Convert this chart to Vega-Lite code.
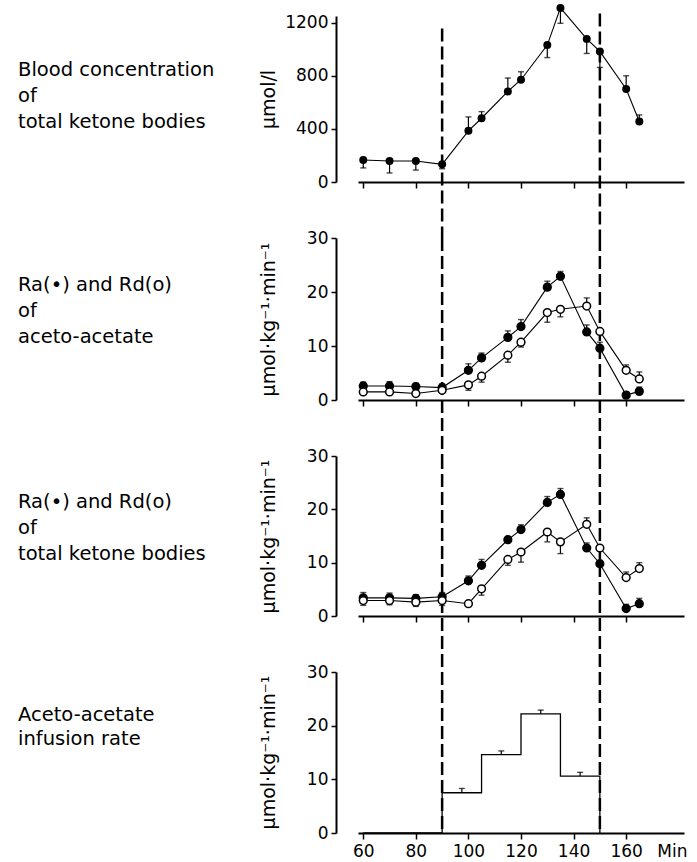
{
  "$schema": "https://vega.github.io/schema/vega-lite/v6.json",
  "padding": {"left": 18, "top": 3, "right": 5, "bottom": 3},
  "background": "white",
  "config": {
    "view": {"stroke": null},
    "font": "DejaVu Sans",
    "axis": {
      "grid": false,
      "domainColor": "black",
      "domainWidth": 2,
      "tickColor": "black",
      "tickWidth": 1.5,
      "tickSize": 6,
      "labelColor": "black",
      "labelFont": "DejaVu Sans",
      "labelFontSize": 17,
      "titleFont": "DejaVu Sans",
      "titleFontSize": 19,
      "titleFontWeight": "normal",
      "titleColor": "black"
    },
    "title": {"font": "DejaVu Sans", "fontSize": 19.5, "fontWeight": "normal", "color": "black"}
  },
  "datasets": {
    "marks": [{"t": 90}, {"t": 150}],
    "blood": [
      {"t": 60, "v": 166, "e": 106},
      {"t": 70, "v": 158, "e": 68},
      {"t": 80, "v": 158, "e": 90},
      {"t": 90, "v": 133, "e": 100},
      {"t": 100, "v": 385, "e": 490},
      {"t": 105, "v": 480, "e": 530},
      {"t": 115, "v": 682, "e": 783},
      {"t": 120, "v": 770, "e": 830},
      {"t": 130, "v": 1031, "e": 937},
      {"t": 135, "v": 1311, "e": 1195},
      {"t": 145, "v": 1077, "e": 968},
      {"t": 150, "v": 983, "e": 863},
      {"t": 160, "v": 700, "e": 800},
      {"t": 165, "v": 455, "e": 505}
    ],
    "aa": [
      {"t": 60, "s": "Ra", "v": 2.6, "e": 3.3},
      {"t": 70, "s": "Ra", "v": 2.6, "e": 3.4},
      {"t": 80, "s": "Ra", "v": 2.5, "e": 3.1},
      {"t": 90, "s": "Ra", "v": 2.3, "e": 3.0},
      {"t": 100, "s": "Ra", "v": 5.5, "e": 6.7},
      {"t": 105, "s": "Ra", "v": 7.8, "e": 8.7},
      {"t": 115, "s": "Ra", "v": 11.6, "e": 12.8},
      {"t": 120, "s": "Ra", "v": 13.6, "e": 14.9},
      {"t": 130, "s": "Ra", "v": 20.9, "e": 22.0},
      {"t": 135, "s": "Ra", "v": 22.9, "e": 23.8},
      {"t": 145, "s": "Ra", "v": 12.6, "e": 13.9},
      {"t": 150, "s": "Ra", "v": 9.6, "e": 10.7},
      {"t": 160, "s": "Ra", "v": 0.9, "e": 1.5},
      {"t": 165, "s": "Ra", "v": 1.6, "e": 2.4},
      {"t": 60, "s": "Rd", "v": 1.5, "e": null},
      {"t": 70, "s": "Rd", "v": 1.5, "e": null},
      {"t": 80, "s": "Rd", "v": 1.2, "e": null},
      {"t": 90, "s": "Rd", "v": 1.8, "e": null},
      {"t": 100, "s": "Rd", "v": 2.8, "e": 1.8},
      {"t": 105, "s": "Rd", "v": 4.4, "e": 3.3},
      {"t": 115, "s": "Rd", "v": 8.3, "e": 7.0},
      {"t": 120, "s": "Rd", "v": 10.7, "e": 9.8},
      {"t": 130, "s": "Rd", "v": 16.2, "e": 14.4},
      {"t": 135, "s": "Rd", "v": 16.8, "e": 15.4},
      {"t": 145, "s": "Rd", "v": 17.4, "e": 18.9},
      {"t": 150, "s": "Rd", "v": 12.7, "e": null},
      {"t": 160, "s": "Rd", "v": 5.5, "e": 6.5},
      {"t": 165, "s": "Rd", "v": 3.9, "e": 5.2}
    ],
    "tkb": [
      {"t": 60, "s": "Ra", "v": 3.4, "e": 4.4},
      {"t": 70, "s": "Ra", "v": 3.4, "e": 4.3},
      {"t": 80, "s": "Ra", "v": 3.3, "e": 4.0},
      {"t": 90, "s": "Ra", "v": 3.6, "e": 4.4},
      {"t": 100, "s": "Ra", "v": 6.6, "e": 7.5},
      {"t": 105, "s": "Ra", "v": 9.5, "e": 10.6},
      {"t": 115, "s": "Ra", "v": 14.3, "e": 14.9},
      {"t": 120, "s": "Ra", "v": 16.2, "e": 17.1},
      {"t": 130, "s": "Ra", "v": 21.3, "e": 22.4},
      {"t": 135, "s": "Ra", "v": 22.8, "e": 23.9},
      {"t": 145, "s": "Ra", "v": 12.75, "e": 13.7},
      {"t": 150, "s": "Ra", "v": 9.8, "e": null},
      {"t": 160, "s": "Ra", "v": 1.4, "e": 2.2},
      {"t": 165, "s": "Ra", "v": 2.3, "e": 3.3},
      {"t": 60, "s": "Rd", "v": 2.9, "e": 2.0},
      {"t": 70, "s": "Rd", "v": 2.9, "e": 2.1},
      {"t": 80, "s": "Rd", "v": 2.6, "e": 1.8},
      {"t": 90, "s": "Rd", "v": 2.9, "e": 2.0},
      {"t": 100, "s": "Rd", "v": 2.3, "e": null},
      {"t": 105, "s": "Rd", "v": 5.1, "e": 3.9},
      {"t": 115, "s": "Rd", "v": 10.6, "e": 9.5},
      {"t": 120, "s": "Rd", "v": 12.0, "e": 10.1},
      {"t": 130, "s": "Rd", "v": 15.75, "e": 13.9},
      {"t": 135, "s": "Rd", "v": 13.9, "e": 11.7},
      {"t": 145, "s": "Rd", "v": 17.2, "e": 18.4},
      {"t": 150, "s": "Rd", "v": 12.75, "e": null},
      {"t": 160, "s": "Rd", "v": 7.2, "e": 8.25},
      {"t": 165, "s": "Rd", "v": 8.9, "e": 10.0}
    ],
    "inf": [
      {"t": 60, "v": 0},
      {"t": 90, "v": 7.5},
      {"t": 105, "v": 14.6},
      {"t": 120, "v": 22.2},
      {"t": 135, "v": 10.6},
      {"t": 150, "v": 0}
    ],
    "infErr": [
      {"t": 97.5, "v": 7.5, "e": 8.3},
      {"t": 112.5, "v": 14.6, "e": 15.3},
      {"t": 127.5, "v": 22.2, "e": 22.9},
      {"t": 142.5, "v": 10.6, "e": 11.3}
    ]
  },
  "spacing": 56,
  "bounds": "flush",
  "vconcat": [
    {
      "width": 326,
      "height": 166,
      "title": {"text": ["Blood concentration", "of", "total ketone bodies"], "orient": "none", "anchor": "start", "frame": "group", "align": "left", "baseline": "top", "dx": -340, "dy": 45, "lineHeight": 26, "offset": 0},
      "layer": [
        {
          "data": {"name": "blood"},
          "mark": {"type": "line", "color": "black", "strokeWidth": 1.1},
          "encoding": {
            "x": {"field": "t", "type": "quantitative", "scale": {"domain": [58, 182], "nice": false, "zero": false}, "axis": {"values": [60, 80, 100, 120, 140, 160], "labels": false, "title": null}},
            "y": {"field": "v", "type": "quantitative", "scale": {"domain": [0, 1250], "nice": false}, "axis": {"values": [0, 400, 800, 1200], "format": "d", "offset": 22, "tickSize": 5, "labelPadding": 3, "title": "μmol/l", "titleX": -58, "titleY": 83}}
          }
        },
        {
          "data": {"name": "marks"},
          "transform": [{"filter": "datum.t == 90"}],
          "mark": {"type": "rule", "color": "black", "strokeWidth": 2.5, "strokeDash": [13, 5]},
          "encoding": {"x": {"field": "t", "type": "quantitative"}, "y": {"datum": 1155, "type": "quantitative"}, "y2": {"datum": -422}}
        },
        {
          "data": {"name": "marks"},
          "transform": [{"filter": "datum.t == 150"}],
          "mark": {"type": "rule", "color": "black", "strokeWidth": 2.5, "strokeDash": [13, 5]},
          "encoding": {"x": {"field": "t", "type": "quantitative"}, "y": {"datum": 1268, "type": "quantitative"}, "y2": {"datum": -422}}
        },
        {
          "data": {"name": "blood"},
          "mark": {"type": "rule", "color": "black", "strokeWidth": 1.2},
          "encoding": {"x": {"field": "t", "type": "quantitative"}, "y": {"field": "v", "type": "quantitative"}, "y2": {"field": "e"}}
        },
        {
          "data": {"name": "blood"},
          "mark": {"type": "tick", "orient": "horizontal", "color": "black", "size": 6, "thickness": 1.4},
          "encoding": {"x": {"field": "t", "type": "quantitative"}, "y": {"field": "e", "type": "quantitative"}}
        },
        {
          "data": {"name": "blood"},
          "mark": {"type": "point", "filled": true, "color": "black", "opacity": 1, "size": 64},
          "encoding": {"x": {"field": "t", "type": "quantitative"}, "y": {"field": "v", "type": "quantitative"}}
        }
      ]
    },
    {
      "width": 326,
      "height": 162,
      "title": {"text": ["Ra(•) and Rd(o)", "of", "aceto-acetate"], "orient": "none", "anchor": "start", "frame": "group", "align": "left", "baseline": "top", "dx": -340, "dy": 38, "lineHeight": 26, "offset": 0},
      "layer": [
        {
          "data": {"name": "aa"},
          "mark": {"type": "line", "color": "black", "strokeWidth": 1.1},
          "encoding": {
            "x": {"field": "t", "type": "quantitative", "scale": {"domain": [58, 182], "nice": false, "zero": false}, "axis": {"values": [60, 80, 100, 120, 140, 160], "labels": false, "title": null}},
            "y": {"field": "v", "type": "quantitative", "scale": {"domain": [0, 30], "nice": false}, "axis": {"values": [0, 10, 20, 30], "offset": 22, "tickSize": 5, "labelPadding": 3, "title": "μmol·kg⁻¹·min⁻¹", "titleX": -58, "titleY": 81}},
            "detail": {"field": "s"}
          }
        },
        {
          "data": {"name": "marks"},
          "mark": {"type": "rule", "color": "black", "strokeWidth": 2.5, "strokeDash": [13, 5]},
          "encoding": {"x": {"field": "t", "type": "quantitative"}, "y": {"datum": 30, "type": "quantitative"}, "y2": {"datum": -10.4}}
        },
        {
          "data": {"name": "aa"},
          "transform": [{"filter": "datum.e != null"}],
          "mark": {"type": "rule", "color": "black", "strokeWidth": 1.2},
          "encoding": {"x": {"field": "t", "type": "quantitative"}, "y": {"field": "v", "type": "quantitative"}, "y2": {"field": "e"}}
        },
        {
          "data": {"name": "aa"},
          "transform": [{"filter": "datum.e != null"}],
          "mark": {"type": "tick", "orient": "horizontal", "color": "black", "size": 6, "thickness": 1.4},
          "encoding": {"x": {"field": "t", "type": "quantitative"}, "y": {"field": "e", "type": "quantitative"}}
        },
        {
          "data": {"name": "aa"},
          "mark": {"type": "point", "filled": true, "stroke": "black", "strokeWidth": 1.5, "opacity": 1, "size": 60},
          "encoding": {"x": {"field": "t", "type": "quantitative"}, "y": {"field": "v", "type": "quantitative"}, "fill": {"field": "s", "type": "nominal", "scale": {"domain": ["Ra", "Rd"], "range": ["black", "white"]}, "legend": null}}
        }
      ]
    },
    {
      "width": 326,
      "height": 160,
      "title": {"text": ["Ra(•) and Rd(o)", "of", "total ketone bodies"], "orient": "none", "anchor": "start", "frame": "group", "align": "left", "baseline": "top", "dx": -340, "dy": 37, "lineHeight": 26, "offset": 0},
      "layer": [
        {
          "data": {"name": "tkb"},
          "mark": {"type": "line", "color": "black", "strokeWidth": 1.1},
          "encoding": {
            "x": {"field": "t", "type": "quantitative", "scale": {"domain": [58, 182], "nice": false, "zero": false}, "axis": {"values": [60, 80, 100, 120, 140, 160], "labels": false, "title": null}},
            "y": {"field": "v", "type": "quantitative", "scale": {"domain": [0, 30], "nice": false}, "axis": {"values": [0, 10, 20, 30], "offset": 22, "tickSize": 5, "labelPadding": 3, "title": "μmol·kg⁻¹·min⁻¹", "titleX": -58, "titleY": 80}},
            "detail": {"field": "s"}
          }
        },
        {
          "data": {"name": "marks"},
          "mark": {"type": "rule", "color": "black", "strokeWidth": 2.5, "strokeDash": [13, 5]},
          "encoding": {"x": {"field": "t", "type": "quantitative"}, "y": {"datum": 30, "type": "quantitative"}, "y2": {"datum": -10.5}}
        },
        {
          "data": {"name": "tkb"},
          "transform": [{"filter": "datum.e != null"}],
          "mark": {"type": "rule", "color": "black", "strokeWidth": 1.2},
          "encoding": {"x": {"field": "t", "type": "quantitative"}, "y": {"field": "v", "type": "quantitative"}, "y2": {"field": "e"}}
        },
        {
          "data": {"name": "tkb"},
          "transform": [{"filter": "datum.e != null"}],
          "mark": {"type": "tick", "orient": "horizontal", "color": "black", "size": 6, "thickness": 1.4},
          "encoding": {"x": {"field": "t", "type": "quantitative"}, "y": {"field": "e", "type": "quantitative"}}
        },
        {
          "data": {"name": "tkb"},
          "mark": {"type": "point", "filled": true, "stroke": "black", "strokeWidth": 1.5, "opacity": 1, "size": 60},
          "encoding": {"x": {"field": "t", "type": "quantitative"}, "y": {"field": "v", "type": "quantitative"}, "fill": {"field": "s", "type": "nominal", "scale": {"domain": ["Ra", "Rd"], "range": ["black", "white"]}, "legend": null}}
        }
      ]
    },
    {
      "width": 326,
      "height": 161,
      "title": {"text": ["Aceto-acetate", "infusion rate"], "orient": "none", "anchor": "start", "frame": "group", "align": "left", "baseline": "top", "dx": -340, "dy": 34, "lineHeight": 24, "offset": 0},
      "layer": [
        {
          "data": {"name": "inf"},
          "mark": {"type": "line", "color": "black", "strokeWidth": 1.3, "interpolate": "step-after"},
          "encoding": {
            "x": {"field": "t", "type": "quantitative", "scale": {"domain": [58, 182], "nice": false, "zero": false}, "axis": {"values": [60, 80, 100, 120, 140, 160], "labelPadding": 4, "title": "Min", "titleX": 329, "titleY": 10, "titleAlign": "right", "titleBaseline": "top", "titleAngle": 0, "titleFontSize": 17}},
            "y": {"field": "v", "type": "quantitative", "scale": {"domain": [0, 30], "nice": false}, "axis": {"values": [0, 10, 20, 30], "offset": 22, "tickSize": 5, "labelPadding": 3, "title": "μmol·kg⁻¹·min⁻¹", "titleX": -58, "titleY": 80}}
          }
        },
        {
          "data": {"name": "marks"},
          "mark": {"type": "rule", "color": "black", "strokeWidth": 2.5, "strokeDash": [13, 5]},
          "encoding": {"x": {"field": "t", "type": "quantitative"}, "y": {"datum": 30, "type": "quantitative"}, "y2": {"datum": 0}}
        },
        {
          "data": {"name": "infErr"},
          "mark": {"type": "rule", "color": "black", "strokeWidth": 1.2},
          "encoding": {"x": {"field": "t", "type": "quantitative"}, "y": {"field": "v", "type": "quantitative"}, "y2": {"field": "e"}}
        },
        {
          "data": {"name": "infErr"},
          "mark": {"type": "tick", "orient": "horizontal", "color": "black", "size": 6, "thickness": 1.4},
          "encoding": {"x": {"field": "t", "type": "quantitative"}, "y": {"field": "e", "type": "quantitative"}}
        }
      ]
    }
  ]
}
